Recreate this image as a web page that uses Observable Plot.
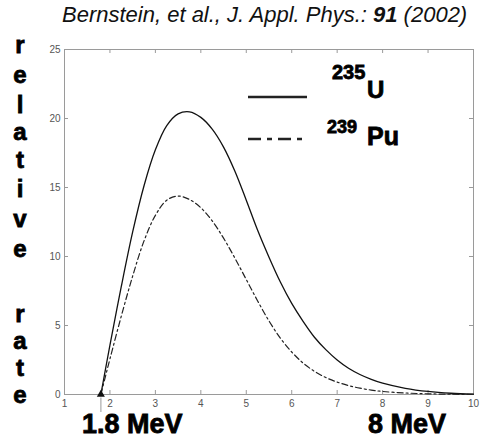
<!DOCTYPE html>
<html><head><meta charset="utf-8">
<script src="https://cdn.jsdelivr.net/npm/d3@7"></script>
<script src="https://cdn.jsdelivr.net/npm/@observablehq/plot@0.6"></script>
<style>
body{margin:0;background:#fff;}
#wrap{position:relative;width:484px;height:438px;overflow:hidden;background:#fff;}
#title{height:30px;font:italic 22px/30px "Liberation Sans",Arial,sans-serif;padding-left:62px;white-space:nowrap;color:#111;}
#overlay{position:absolute;left:0;top:0;pointer-events:none;}
.big{font-family:"Liberation Sans",Arial,sans-serif;font-weight:bold;fill:#000;stroke:#000;stroke-width:0.8;paint-order:stroke;}
</style></head><body>
<div id="wrap">
<div id="title">Bernstein, et al., J. Appl. Phys.: <b>91</b> (2002)</div>
<div id="chart"></div>
<svg id="overlay" width="484" height="438">
  <line x1="248" x2="307" y1="97" y2="97" stroke="#222" stroke-width="2.6"/>
  <line x1="248" x2="303" y1="139" y2="139" stroke="#222" stroke-width="2.6" stroke-dasharray="13,6,5,6"/>
  <text class="big" x="332" y="79" font-size="20" stroke-width="0.4">235</text>
  <text class="big" x="367" y="98" font-size="24" stroke-width="0.4">U</text>
  <text class="big" x="327" y="133" font-size="18" stroke-width="0.4">239</text>
  <text class="big" x="367" y="145" font-size="25" stroke-width="0.4">Pu</text>
  <g class="big" font-size="24" text-anchor="middle">
    <text x="20" y="53">r</text><text x="20" y="83">e</text><text x="20" y="113">l</text>
    <text x="20" y="140">a</text><text x="20" y="168">t</text><text x="20" y="197">i</text>
    <text x="20" y="227">v</text><text x="20" y="257">e</text>
    <text x="20" y="322">r</text><text x="20" y="349">a</text><text x="20" y="376">t</text><text x="20" y="403">e</text>
  </g>
  <text class="big" x="82" y="433" font-size="27">1.8 MeV</text>
  <text class="big" x="368" y="433" font-size="27">8 MeV</text>
</svg>
</div>
<script>
const energy = [1.8, 1.9, 2.0, 2.25, 2.5, 2.75, 3.0, 3.25, 3.5, 3.75, 4.0, 4.25, 4.5, 4.75, 5.0, 5.25, 5.5, 5.75, 6.0, 6.25, 6.5, 6.75, 7.0, 7.25, 7.5, 7.75, 8.0, 8.5, 9.0, 9.5, 10];
const u235  = [0, 1.8, 3.58, 7.83, 11.78, 15.13, 17.73, 19.48, 20.33, 20.48, 20.08, 19.23, 17.93, 16.18, 14.08, 11.9, 9.95, 8.15, 6.6, 5.3, 4.15, 3.25, 2.5, 1.9, 1.45, 1.1, 0.82, 0.45, 0.22, 0.09, 0.03];
const pu239 = [0, 1.3, 2.58, 5.68, 8.58, 11.13, 12.98, 14.08, 14.38, 14.13, 13.53, 12.58, 11.33, 9.88, 8.33, 6.78, 5.33, 4.08, 3.08, 2.28, 1.68, 1.23, 0.9, 0.65, 0.46, 0.32, 0.22, 0.11, 0.05, 0.02, 0.01];
const xTicks = [1, 2, 3, 4, 5, 6, 7, 8, 9, 10];
const yTicks = [0, 5, 10, 15, 20, 25];
const threshold = [1.8];

const uRows = energy.map((e, i) => ({e, v: u235[i]}));
const pRows = energy.map((e, i) => ({e, v: pu239[i]}));
const grey = "#9a9a9a";

const plot = Plot.plot({
  width: 484, height: 408,
  marginTop: 19, marginRight: 11, marginBottom: 44, marginLeft: 64,
  style: {fontFamily: '"Liberation Sans", Arial, sans-serif', fontSize: "10px", color: "#555", background: "#fff"},
  x: {domain: [1, 10], label: null},
  y: {domain: [0, 25], label: null},
  marks: [
    Plot.frame({stroke: grey}),
    Plot.axisX(xTicks, {tickSize: 0, tickPadding: 5, label: null}),
    Plot.axisY(yTicks, {tickSize: 0, tickPadding: 4, label: null}),
    Plot.ruleX(xTicks, {x: d => d, insetTop: 341, stroke: grey}),
    Plot.ruleX(xTicks, {x: d => d, insetBottom: 341, stroke: grey}),
    Plot.ruleY(yTicks, {y: d => d, insetRight: 405, stroke: grey}),
    Plot.ruleY(yTicks, {y: d => d, insetLeft: 405, stroke: grey}),
    Plot.line(uRows, {x: "e", y: "v", stroke: "#111", strokeWidth: 1.3, curve: "catmull-rom"}),
    Plot.line(pRows, {x: "e", y: "v", stroke: "#222", strokeWidth: 1.2, strokeDasharray: "6,3,2,3", curve: "catmull-rom"}),
    Plot.ruleX(threshold, {x: d => d, y1: -0.25, y2: -1.3, stroke: "#bbb", strokeWidth: 1.5}),
    Plot.dot(threshold, {x: d => d, y: 0, symbol: "triangle", r: 3, fill: "#111", stroke: null})
  ]
});
document.getElementById("chart").appendChild(plot);
</script>
</body></html>
